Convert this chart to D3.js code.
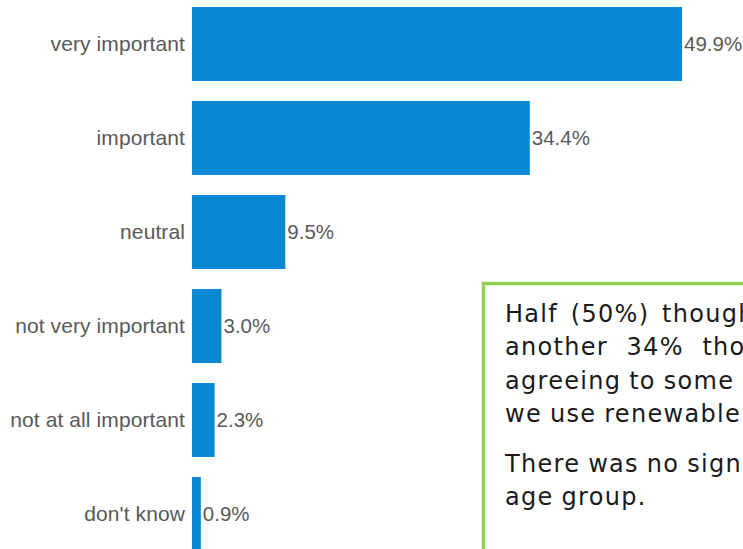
<!DOCTYPE html>
<html>
<head>
<meta charset="utf-8">
<script src="https://cdn.jsdelivr.net/npm/d3@7"></script>
<style>
  html, body { margin: 0; padding: 0; background: #ffffff; }
  svg { display: block; }
</style>
</head>
<body>
<svg id="chart" width="743" height="549"></svg>
<script>
// Survey responses: importance of using renewable energy
const categories = ["very important", "important", "neutral", "not very important", "not at all important", "don't know"];
const values = [49.9, 34.4, 9.5, 3.0, 2.3, 0.9];

// Commentary box text, one array of lines per paragraph
const paragraph1 = [
  "Half (50%) thought it was very important, and",
  "another 34% thought it was important, with",
  "agreeing to some extent that it is important that",
  "we use renewable energy."
];
const paragraph2 = [
  "There was no significant difference in opinion by",
  "age group."
];

const W = 743;
const svg = d3.select("#chart");
const barColor = "#0788d2";
const labelColor = "#595959";

const x = d3.scaleLinear()
  .domain([0, d3.max(values)])
  .range([192, 682]);

const y = d3.scaleBand()
  .domain(categories)
  .range([-3, 561])
  .paddingInner(20 / 94)
  .paddingOuter(10 / 94);

const data = categories.map((c, i) => ({ cat: c, val: values[i] }));

// Bars
svg.append("g")
  .selectAll("rect")
  .data(data)
  .join("rect")
  .attr("x", x(0))
  .attr("y", d => y(d.cat))
  .attr("width", d => x(d.val) - x(0))
  .attr("height", y.bandwidth())
  .attr("fill", barColor);

// Category axis
const axis = svg.append("g")
  .attr("transform", `translate(${x(0)},0)`)
  .call(d3.axisLeft(y).tickSize(0).tickPadding(7));
axis.select(".domain").remove();
axis.selectAll("text")
  .attr("font-family", "'Liberation Sans', Arial, sans-serif")
  .attr("font-size", 21)
  .attr("letter-spacing", 0.1)
  .attr("fill", labelColor)
  .attr("dy", "0.35em");

// Value labels
svg.append("g")
  .selectAll("text")
  .data(data)
  .join("text")
  .attr("x", d => x(d.val) + 2)
  .attr("y", d => y(d.cat) + y.bandwidth() / 2)
  .attr("dy", "0.35em")
  .attr("font-family", "'Liberation Sans', Arial, sans-serif")
  .attr("font-size", 20.5)
  .attr("fill", labelColor)
  .text(d => d.val.toFixed(1) + "%");

// Commentary box (runs past the right and bottom edges)
const box = svg.append("g");
box.append("rect")
  .attr("x", 483.5)
  .attr("y", 283.5)
  .attr("width", 700)
  .attr("height", 400)
  .attr("fill", "#ffffff")
  .attr("stroke", "#92d050")
  .attr("stroke-width", 3.5);

const textLeft = 505;
const textWidth = 640;
const lineHeight = 33.3;
const fontSize = 24;

// Justified paragraph: words are spread to fill textWidth, last line left-aligned.
function drawParagraph(lines, firstBaseline) {
  lines.forEach((line, li) => {
    const words = line.split(" ");
    const g = box.append("g");
    const nodes = words.map(w => g.append("text")
      .attr("font-family", "'DejaVu Sans', sans-serif")
      .attr("font-size", fontSize)
      .attr("letter-spacing", 1.3)
      .attr("fill", "#1a1a1a")
      .attr("y", firstBaseline + li * lineHeight)
      .text(w));
    const widths = nodes.map(n => n.node().getComputedTextLength());
    const isLast = li === lines.length - 1;
    const space = fontSize * 0.33;
    const gap = isLast || words.length < 2
      ? space
      : (textWidth - d3.sum(widths)) / (words.length - 1);
    let cx = textLeft;
    nodes.forEach((n, i) => {
      n.attr("x", cx);
      cx += widths[i] + gap;
    });
    // words that start beyond the canvas are not kept
    nodes.forEach(n => { if (+n.attr("x") >= W) n.remove(); });
  });
}

drawParagraph(paragraph1, 322);
drawParagraph(paragraph2, 472);
</script>
</body>
</html>
